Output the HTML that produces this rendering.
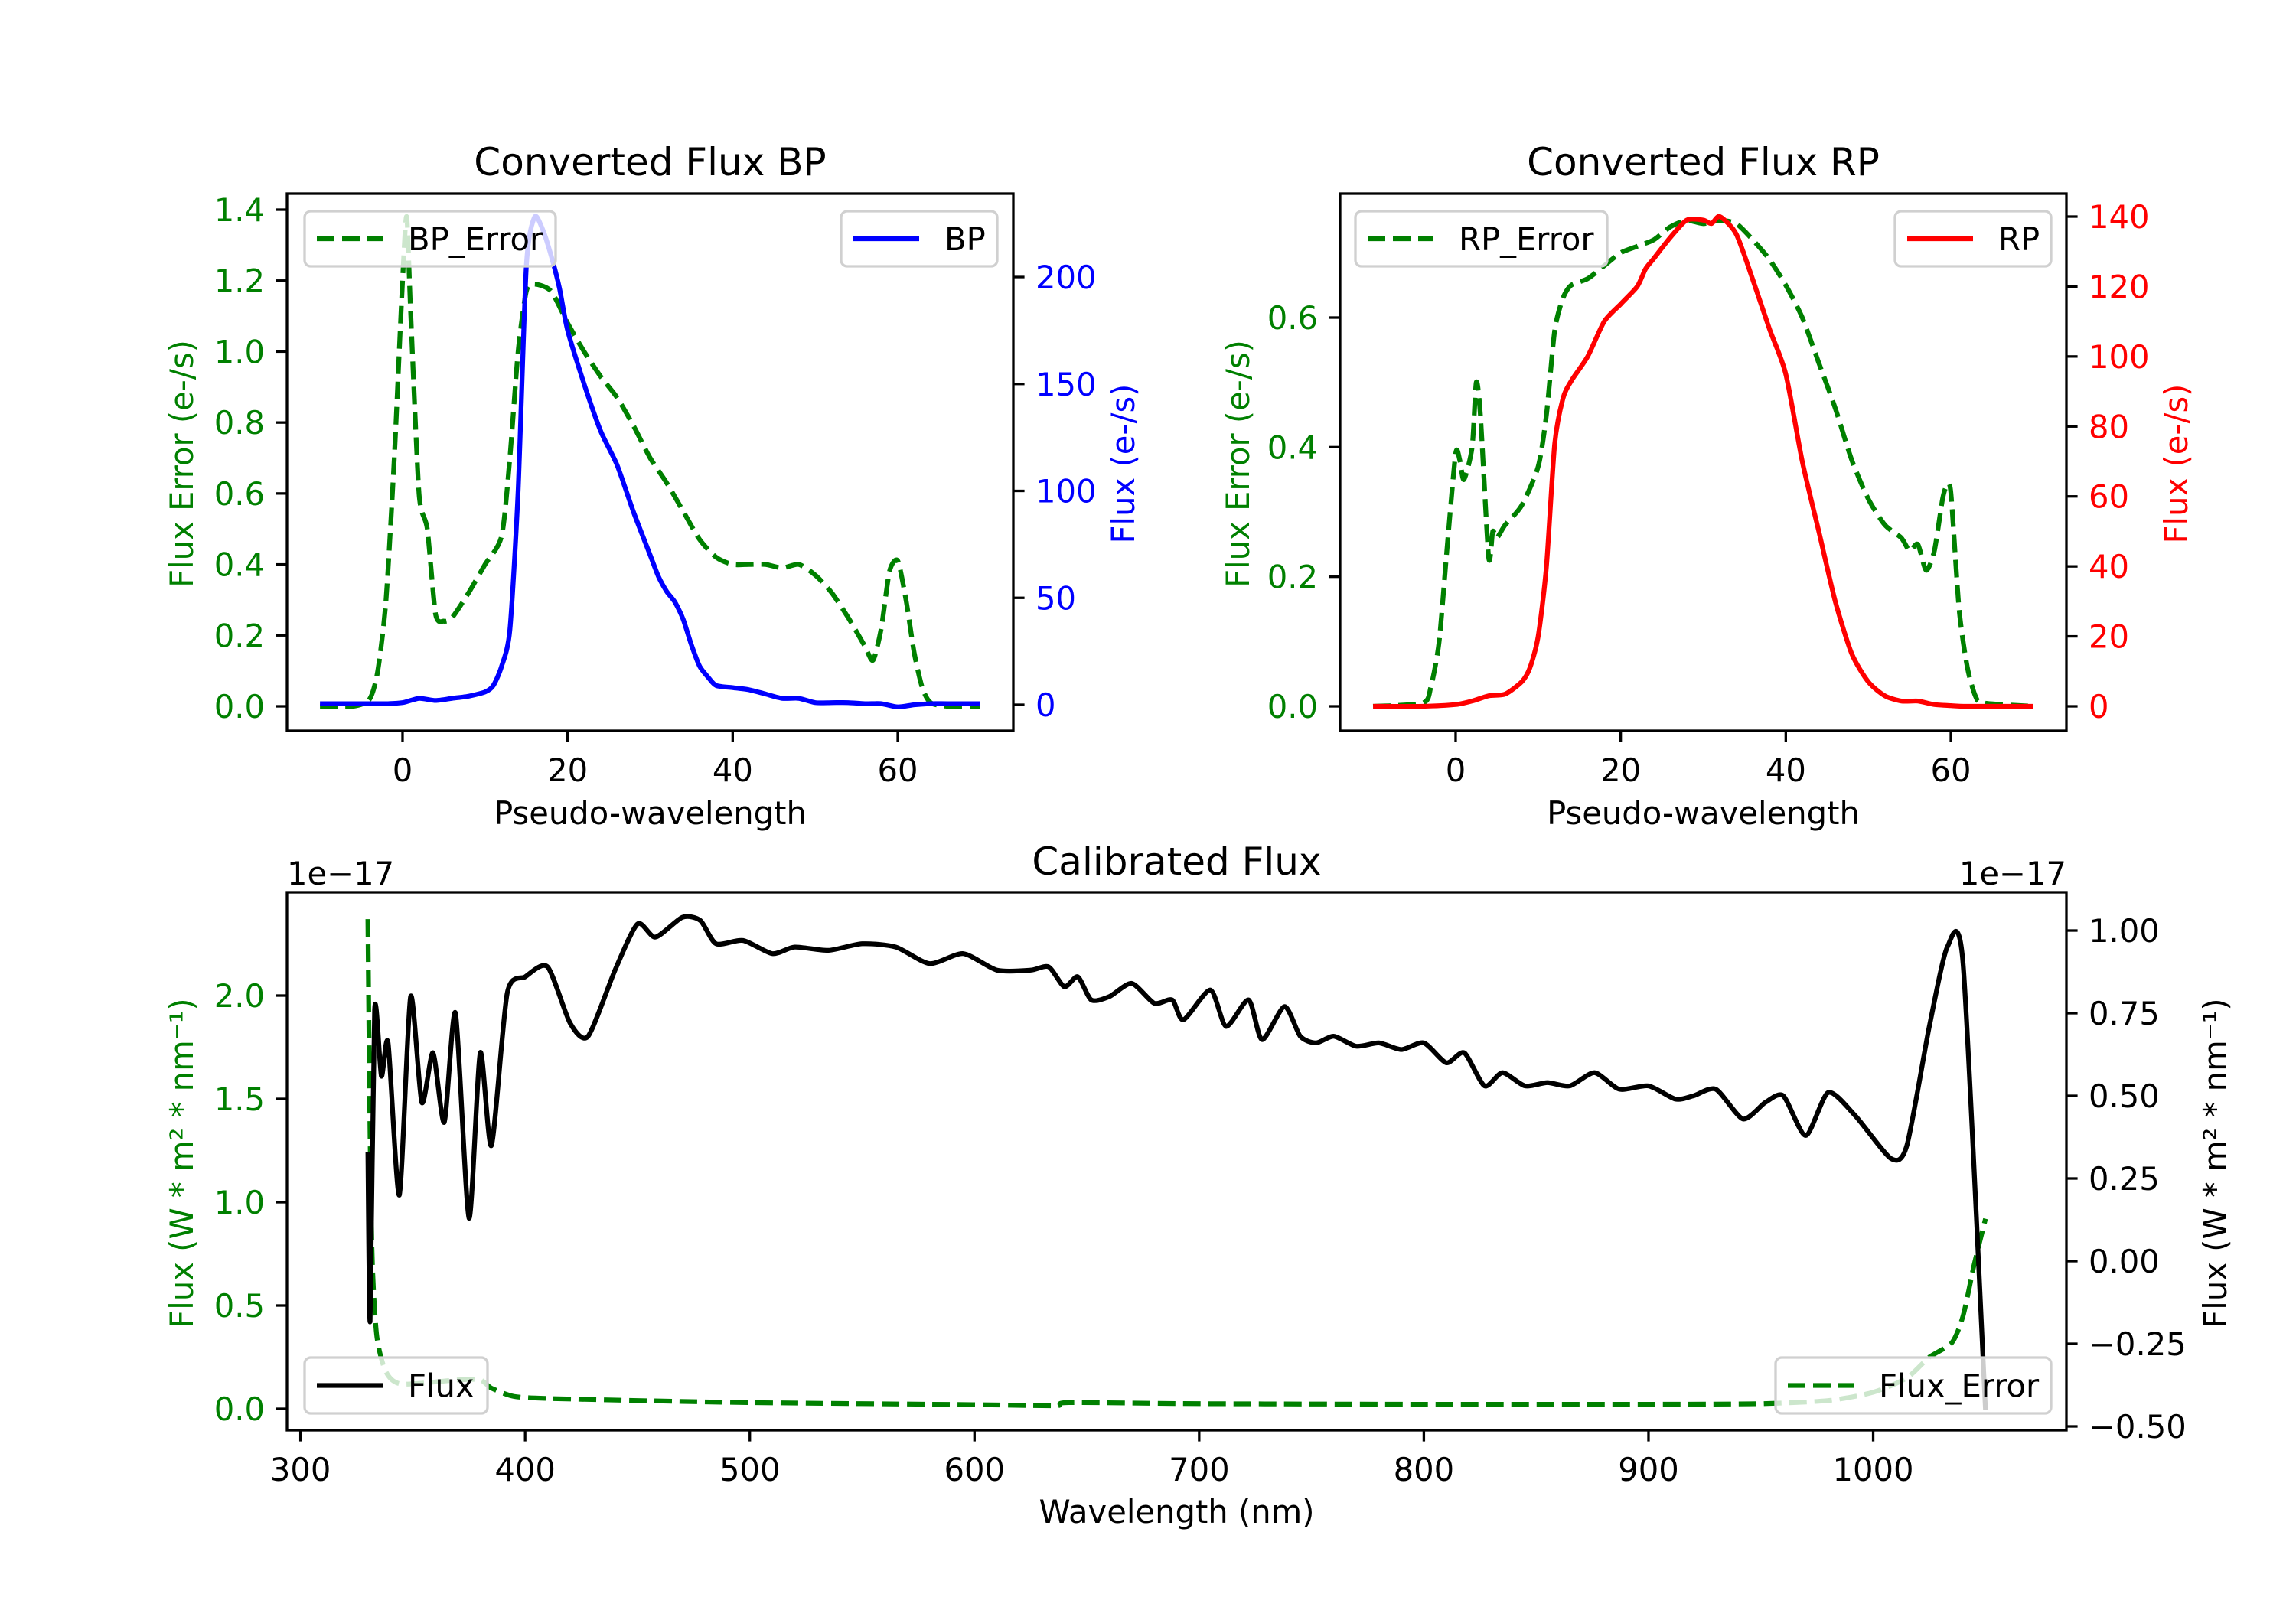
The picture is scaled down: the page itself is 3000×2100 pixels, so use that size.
<!DOCTYPE html>
<html><head><meta charset="utf-8">
<style>
html,body{margin:0;padding:0;background:#fff;}
svg{display:block;font-family:"DejaVu Sans","Liberation Sans",sans-serif;}
</style></head>
<body>
<svg id="fig" width="3000" height="2100" viewBox="0 0 3000 2100" xmlns="http://www.w3.org/2000/svg">
<rect width="3000" height="2100" fill="#fff"/>
</svg>
<script>
// ---------- DATA ----------
const bpX =    [-10,-6,-2,0,2,4,6,8,10,11,12,13,14,15,16,17,18,19,20,22,24,26,28,30,31,32,33,34,35,36,37,38,40,42,44,46,48,50,52,54,56,58,60,62,64,66,70];
const bpFlux = [0.5,0.5,0.5,1,3,2,3,4,6,9,18,35,100,205,228,222,210,195,175,150,128,112,90,70,60,53,48,40,28,18,13,9,8,7,5,3,3,1,1,1,0.5,0.5,-1,0,0.5,0.5,0.5];
const bpErrX = [-10,-6,-4,-3,-2,-1,0,0.5,1,2,3,4,5,6,8,10,12,13,14,15,16,18,20,22,24,26,28,30,32,34,36,38,40,42,44,46,48,50,52,54,56,57,58,59,60,61,62,63,64,66,70];
const bpErr =  [0,0,0.02,0.1,0.3,0.7,1.2,1.38,1.1,0.6,0.5,0.26,0.24,0.25,0.32,0.4,0.48,0.7,1.0,1.17,1.19,1.17,1.08,1.0,0.93,0.87,0.79,0.7,0.63,0.55,0.47,0.42,0.4,0.4,0.4,0.39,0.4,0.37,0.32,0.25,0.17,0.13,0.22,0.38,0.41,0.3,0.15,0.05,0.01,0,0];
const rpX =    [-10,-4,0,2,4,6,8,9,10,11,12,13,14,16,18,20,22,23,24,26,28,30,31,32,34,36,38,40,42,44,46,48,50,52,54,56,58,60,62,70];
const rpFlux = [0,0,0.5,1.5,3,3.5,7,11,20,40,75,88,93,100,110,115,120,125,128,134,139,139,138,140,135,122,108,95,70,50,30,15,7,3,1.5,1.5,0.5,0.2,0,0];
const rpErrX = [-10,-4,-3,-2,-1,0,0.5,1,2,2.5,3,4,4.5,5,6,8,10,11,12,13,14,16,18,20,22,24,26,28,30,32,34,36,38,40,42,44,46,48,50,52,54,55,56,57,58,59,59.5,60,61,62,63,64,70];
const rpErr =  [0,0.005,0.03,0.1,0.25,0.39,0.38,0.35,0.4,0.5,0.45,0.23,0.27,0.26,0.28,0.31,0.37,0.45,0.58,0.63,0.65,0.66,0.68,0.7,0.71,0.72,0.74,0.75,0.745,0.75,0.745,0.72,0.69,0.65,0.6,0.53,0.46,0.38,0.32,0.28,0.26,0.24,0.25,0.21,0.24,0.32,0.34,0.33,0.15,0.06,0.015,0.005,0];
const calX =    [330,331,333,336,339,344,349,354,359,364,369,375,380,385,392,400,410,420,428,440,450,458,470,478,485,497,510,520,535,550,565,580,595,610,625,633,640,646,652,660,670,680,688,693,705,712,722,728,738,745,752,760,770,780,790,800,810,818,827,835,845,855,865,876,887,900,912,920,930,942,952,960,970,980,992,1008,1015,1025,1033,1040,1050];
const calFlux = [0.33,-0.18,0.76,0.56,0.66,0.2,0.8,0.48,0.63,0.42,0.75,0.13,0.63,0.35,0.81,0.86,0.89,0.72,0.68,0.88,1.02,0.98,1.04,1.03,0.96,0.97,0.93,0.95,0.94,0.96,0.95,0.9,0.93,0.88,0.88,0.89,0.83,0.86,0.79,0.8,0.84,0.78,0.79,0.73,0.82,0.71,0.79,0.67,0.77,0.68,0.66,0.68,0.65,0.66,0.64,0.66,0.6,0.63,0.53,0.57,0.53,0.54,0.53,0.57,0.52,0.53,0.49,0.5,0.52,0.43,0.48,0.5,0.38,0.51,0.44,0.31,0.35,0.71,0.95,0.9,-0.45];
const calErrX = [330,331,332,334,338,345,370,380,385,395,410,450,500,600,636,642,700,800,900,950,980,1000,1015,1025,1035,1040,1045,1050];
const calErr =  [2.37,1.3,0.7,0.35,0.18,0.12,0.14,0.14,0.1,0.06,0.05,0.04,0.03,0.02,0.015,0.03,0.025,0.022,0.022,0.025,0.04,0.08,0.15,0.25,0.32,0.45,0.7,0.92];
const topXTicks = [0,20,40,60];
const bpLTicks = [0.0,0.2,0.4,0.6,0.8,1.0,1.2,1.4];
const bpRTicks = [0,50,100,150,200];
const rpLTicks = [0.0,0.2,0.4,0.6];
const rpRTicks = [0,20,40,60,80,100,120,140];
const calXTicks = [300,400,500,600,700,800,900,1000];
const calLTicks = [0.0,0.5,1.0,1.5,2.0];
const calRTicks = [-0.5,-0.25,0.0,0.25,0.5,0.75,1.0];

// ---------- helpers ----------
const NS="http://www.w3.org/2000/svg";
const FS=41.7, TFS=50;
const fig=document.getElementById('fig');
function el(tag,attrs,parent){const e=document.createElementNS(NS,tag);for(const k in attrs)e.setAttribute(k,attrs[k]);(parent||fig).appendChild(e);return e;}
function lin(d0,d1,p0,p1){return v=>p0+(v-d0)*(p1-p0)/(d1-d0);}
function fmt(v,d){return (v<0?'\u2212':'')+Math.abs(v).toFixed(d);}
function line(xs,ys,sx,sy,color,dashed,name){
  const P=xs.map((x,i)=>[sx(x),sy(ys[i])]);
  let d='M'+P[0][0].toFixed(1)+','+P[0][1].toFixed(1);
  for(let i=0;i<P.length-1;i++){
    const p0=P[Math.max(0,i-1)],p1=P[i],p2=P[i+1],p3=P[Math.min(P.length-1,i+2)];
    const t=0.12;
    const c1=[p1[0]+(p2[0]-p0[0])*t,p1[1]+(p2[1]-p0[1])*t];
    const c2=[p2[0]-(p3[0]-p1[0])*t,p2[1]-(p3[1]-p1[1])*t];
    d+='C'+c1[0].toFixed(1)+','+c1[1].toFixed(1)+' '+c2[0].toFixed(1)+','+c2[1].toFixed(1)+' '+p2[0].toFixed(1)+','+p2[1].toFixed(1);
  }
  const p=el('path',{d:d,fill:'none',stroke:color,'stroke-width':6.25,'stroke-linejoin':'round'});
  if(dashed)p.setAttribute('stroke-dasharray','23,10');
  
  
}
function text(x,y,s,opts,name){
  const t=el('text',Object.assign({x:x,y:y,'font-size':FS,fill:'#000'},opts||{}));
  t.textContent=s;
  
  
  return t;
}
function xTicks(ticks,sx,y,dec,name){
  ticks.forEach(v=>{
    el('line',{x1:sx(v),x2:sx(v),y1:y,y2:y+14.6,stroke:'#000','stroke-width':3.3});
    text(sx(v),y+66,fmt(v,dec),{'text-anchor':'middle'},name);
  });
}
function yTicks(ticks,sy,x,side,dec,color,name){
  ticks.forEach(v=>{
    const dx=side==='left'?-14.6:14.6;
    el('line',{x1:x,x2:x+dx,y1:sy(v),y2:sy(v),stroke:'#000','stroke-width':3.3});
    text(side==='left'?x-29:x+29,sy(v)+15,fmt(v,dec),{'text-anchor':side==='left'?'end':'start',fill:color},name);
  });
}
function frame(x0,y0,x1,y1,name){
  const r=el('rect',{x:x0,y:y0,width:x1-x0,height:y1-y0,fill:'none',stroke:'#000','stroke-width':3.3});
  
  
}
function legend(x0,y0,x1,y1,label,color,dashed,name){
  const g=el('g',{});
  
  
  el('rect',{x:x0,y:y0,width:x1-x0,height:y1-y0,rx:8,fill:'rgba(255,255,255,0.8)',stroke:'#d0d0d0','stroke-width':3.3},g);
  const cy=(y0+y1)/2;
  const l=el('line',{x1:x0+16,x2:x0+102,y1:cy,y2:cy,stroke:color,'stroke-width':6.25},g);
  if(dashed)l.setAttribute('stroke-dasharray','23,10');
  const t=el('text',{x:x0+135,y:cy+15,'font-size':FS,fill:'#000'},g);
  t.textContent=label;
}
function vlabel(x,y,s,color,name){
  text(x,y,s,{'text-anchor':'middle',fill:color,transform:'rotate(-90 '+x+' '+y+')'},name);
}

// ---------- BP panel ----------
{
  const X0=375,X1=1324,Y0=253,Y1=955;
  const sx=lin(-14,74,X0,X1);
  const syL=lin(0,1.4,923,274);
  const syR=lin(0,200,921,362);
  line(bpErrX,bpErr,sx,syL,'#008000',true,'bp-error-line');
  line(bpX,bpFlux,sx,syR,'#0000ff',false,'bp-flux-line');
  frame(X0,Y0,X1,Y1,'bp-axes-frame');
  xTicks(topXTicks,sx,Y1,0,'bp-x-tick-label');
  yTicks(bpLTicks,syL,X0,'left',1,'#008000','bp-left-tick-label');
  yTicks(bpRTicks,syR,X1,'right',0,'#0000ff','bp-right-tick-label');
  text((X0+X1)/2,229,'Converted Flux BP',{'text-anchor':'middle','font-size':TFS},'bp-title');
  text((X0+X1)/2,1077,'Pseudo-wavelength',{'text-anchor':'middle'},'bp-x-axis-title');
  vlabel(252,606,'Flux Error (e-/s)','#008000','bp-left-y-axis-title');
  vlabel(1482,606,'Flux (e-/s)','#0000ff','bp-right-y-axis-title');
  legend(398,276,726,348,'BP_Error','#008000',true,'bp-error-legend');
  legend(1099,276,1303,348,'BP','#0000ff',false,'bp-legend');
}
// ---------- RP panel ----------
{
  const X0=1751,X1=2700,Y0=253,Y1=955;
  const sx=lin(-14,74,X0,X1);
  const syL=lin(0,0.6,923,415);
  const syR=lin(0,140,923,283);
  line(rpErrX,rpErr,sx,syL,'#008000',true,'rp-error-line');
  line(rpX,rpFlux,sx,syR,'#ff0000',false,'rp-flux-line');
  frame(X0,Y0,X1,Y1,'rp-axes-frame');
  xTicks(topXTicks,sx,Y1,0,'rp-x-tick-label');
  yTicks(rpLTicks,syL,X0,'left',1,'#008000','rp-left-tick-label');
  yTicks(rpRTicks,syR,X1,'right',0,'#ff0000','rp-right-tick-label');
  text((X0+X1)/2,229,'Converted Flux RP',{'text-anchor':'middle','font-size':TFS},'rp-title');
  text((X0+X1)/2,1077,'Pseudo-wavelength',{'text-anchor':'middle'},'rp-x-axis-title');
  vlabel(1632,606,'Flux Error (e-/s)','#008000','rp-left-y-axis-title');
  vlabel(2858,606,'Flux (e-/s)','#ff0000','rp-right-y-axis-title');
  legend(1771,276,2100,348,'RP_Error','#008000',true,'rp-error-legend');
  legend(2476,276,2680,348,'RP','#ff0000',false,'rp-legend');
}
// ---------- Calibrated panel ----------
{
  const X0=375,X1=2700,Y0=1166,Y1=1869;
  const sx=lin(294,1086,X0,X1);
  const syL=lin(0,2,1841,1301);
  const syR=lin(0,1,1648,1216);
  line(calErrX,calErr,sx,syL,'#008000',true,'calibrated-flux-error-line');
  line(calX,calFlux,sx,syR,'#000000',false,'calibrated-flux-line');
  frame(X0,Y0,X1,Y1,'calibrated-axes-frame');
  xTicks(calXTicks,sx,Y1,0,'calibrated-x-tick-label');
  yTicks(calLTicks,syL,X0,'left',1,'#008000','calibrated-left-tick-label');
  yTicks(calRTicks,syR,X1,'right',2,'#000000','calibrated-right-tick-label');
  text((X0+X1)/2,1143,'Calibrated Flux',{'text-anchor':'middle','font-size':TFS},'calibrated-title');
  text(375,1156,'1e\u221217',{'text-anchor':'start'},'left-offset-label');
  text(2700,1156,'1e\u221217',{'text-anchor':'end'},'right-offset-label');
  text((X0+X1)/2,1990,'Wavelength (nm)',{'text-anchor':'middle'},'calibrated-x-axis-title');
  vlabel(252,1520,'Flux (W * m\u00B2 * nm\u207B\u00B9)','#008000','calibrated-left-y-axis-title');
  vlabel(2909,1520,'Flux (W * m\u00B2 * nm\u207B\u00B9)','#000000','calibrated-right-y-axis-title');
  legend(398,1774,637,1847,'Flux','#000000',false,'flux-legend');
  legend(2320,1774,2680,1847,'Flux_Error','#008000',true,'flux-error-legend');
}
</script>
</body></html>
